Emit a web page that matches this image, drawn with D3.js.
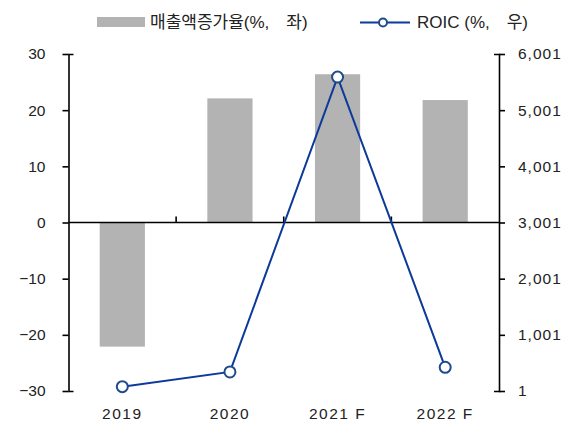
<!DOCTYPE html>
<html>
<head>
<meta charset="utf-8">
<script src="https://cdn.jsdelivr.net/npm/d3@7"></script>
<style>
  body { margin: 0; background: #fff; }
  text { font-family: "Liberation Sans", "Noto Sans CJK KR", sans-serif; fill: #222; }
</style>
</head>
<body>
<svg id="chart" width="571" height="423"></svg>
<script>
// values
var years = ['2019', '2020', '2021F', '2022F']
var salesGrowth = [-22.1, 22.1, 26.4, 21.8]   // 매출액증가율 (%, left)
var roic = [78, 340, 5590, 423]                // ROIC (%, right)
var leftTicks = [30, 20, 10, 0, -10, -20, -30]
var rightTicks = [6001, 5001, 4001, 3001, 2001, 1001, 1]

var svg = d3.select('#chart')
var x0 = 68.5, x1 = 499, yTop = 54, yBot = 391

var x = d3.scaleBand().domain(years).range([x0, x1]).paddingInner(0.58).paddingOuter(0.29)
var xc = function(d) { return x(d) + x.bandwidth() / 2 }
var yL = d3.scaleLinear().domain([-30, 30]).range([yBot, yTop])
var yR = d3.scaleLinear().domain([1, 6001]).range([yBot, yTop])

var fmtL = function(d) { return d < 0 ? '\u2212' + Math.abs(d) : '' + d }

// bars
svg.append('g').selectAll('rect')
    .data(years)
    .enter().append('rect')
    .attr('x', function(d) { return x(d) })
    .attr('width', x.bandwidth())
    .attr('y', function(d, i) { return yL(Math.max(0, salesGrowth[i])) })
    .attr('height', function(d, i) { return Math.abs(yL(salesGrowth[i]) - yL(0)) })
    .attr('fill', '#b3b3b3')

// left axis
var gl = svg.append('g')
    .attr('transform', 'translate(' + x0 + ',0)')
    .call(d3.axisLeft(yL).tickValues(leftTicks).tickFormat(fmtL).tickSize(6).tickSizeOuter(-5).tickPadding(17))
gl.selectAll('text').style('font-size', '15.5px').attr('fill', '#222')

// right axis
var gr = svg.append('g')
    .attr('transform', 'translate(' + x1 + ',0)')
    .call(d3.axisRight(yR).tickValues(rightTicks).tickFormat(d3.format(',')).tickSize(6).tickSizeOuter(-5).tickPadding(13))
gr.selectAll('text').style('font-size', '15.5px').style('letter-spacing', '1px').attr('fill', '#222')

svg.selectAll('.domain, .tick line').attr('stroke', '#000').attr('stroke-width', 1.6)

// zero line with upward category separators
svg.append('line')
    .attr('x1', x0).attr('x2', x1)
    .attr('y1', yL(0)).attr('y2', yL(0))
    .attr('stroke', '#000').attr('stroke-width', 1.6)
svg.append('g').selectAll('line')
    .data(years.slice(1))
    .enter().append('line')
    .attr('x1', function(d) { return x(d) - x.step() * x.paddingInner() / 2 })
    .attr('x2', function(d) { return x(d) - x.step() * x.paddingInner() / 2 })
    .attr('y1', yL(0)).attr('y2', yL(0) - 6)
    .attr('stroke', '#000').attr('stroke-width', 1.6)

// x labels
svg.append('g').selectAll('text')
    .data(years)
    .enter().append('text')
    .attr('x', xc)
    .attr('y', 419)
    .attr('text-anchor', 'middle')
    .style('font-size', '15.5px')
    .style('letter-spacing', '1.5px')
    .text(function(d) { return d.replace('F', ' F') })

// ROIC line
var line = d3.line()
    .x(function(d, i) { return xc(years[i]) })
    .y(function(d) { return yR(d) })
svg.append('path')
    .datum(roic)
    .attr('d', line)
    .attr('fill', 'none')
    .attr('stroke', '#0b3a9b')
    .attr('stroke-width', 2)
svg.append('g').selectAll('circle')
    .data(roic)
    .enter().append('circle')
    .attr('cx', function(d, i) { return xc(years[i]) })
    .attr('cy', function(d) { return yR(d) })
    .attr('r', 5.5)
    .attr('fill', '#fff')
    .attr('stroke', '#1f4b8a')
    .attr('stroke-width', 2)

// legend
var lg = svg.append('g')
lg.append('rect').attr('x', 97).attr('y', 17).attr('width', 48).attr('height', 10).attr('fill', '#b3b3b3')
lg.append('text').attr('x', 150).attr('y', 28).style('font-size', '17px').text('매출액증가율(%,\u3000좌)')
lg.append('line').attr('x1', 360).attr('x2', 410).attr('y1', 22.5).attr('y2', 22.5)
    .attr('stroke', '#0b3a9b').attr('stroke-width', 2)
lg.append('circle').attr('cx', 383).attr('cy', 22.5).attr('r', 4)
    .attr('fill', '#fff').attr('stroke', '#1f4b8a').attr('stroke-width', 2)
lg.append('text').attr('x', 417).attr('y', 28).style('font-size', '17px').text('ROIC (%,\u3000우)')
</script>
</body>
</html>
